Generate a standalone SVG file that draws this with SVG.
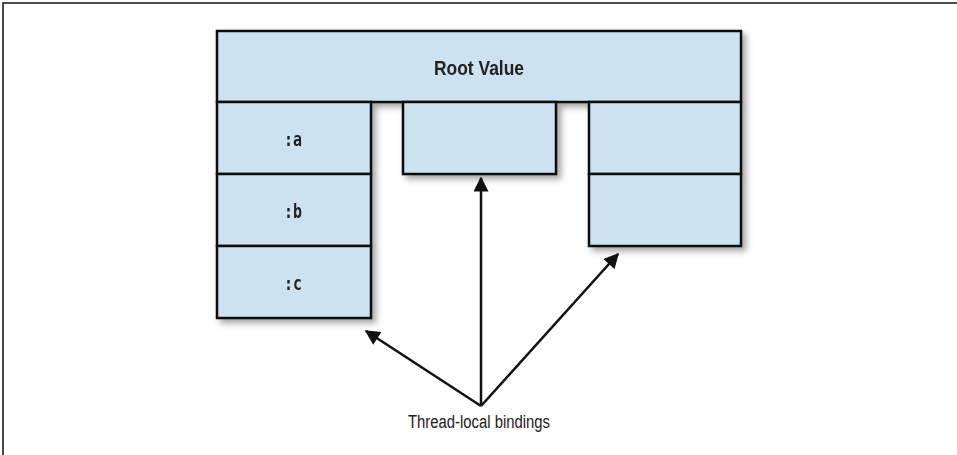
<svg xmlns="http://www.w3.org/2000/svg" width="957" height="455" viewBox="0 0 957 455">
  <style>
    .cell { fill: #cce2f0; stroke: #111; stroke-width: 2.5; }
    .lbl { font-family: "Liberation Sans", Arial, sans-serif; fill: #222; text-anchor: middle; }
    .key { font-family: "DejaVu Sans Mono", "Liberation Mono", monospace; font-size: 19px; font-weight: bold; fill: #222; text-anchor: middle; }
    .conn { stroke: #111; stroke-width: 2.5; fill: none; marker-end: url(#arr); }
  </style>
  <defs>
    <filter id="sh" x="-10%" y="-10%" width="130%" height="130%">
      <feDropShadow dx="4" dy="4" stdDeviation="3" flood-color="#000" flood-opacity="0.35"/>
    </filter>
    <marker id="arr" viewBox="0 0 10 10" refX="9" refY="5" markerWidth="6.5" markerHeight="6" markerUnits="strokeWidth" orient="auto">
      <path d="M0,0 L10,5 L0,10 z" fill="#111"/>
    </marker>
  </defs>
  <rect width="957" height="455" fill="#fff"/>
  <path d="M3,455 V3 H957" fill="none" stroke="#111" stroke-width="1.5"/>
  <g filter="url(#sh)">
    <g id="root">
      <rect class="cell" x="217" y="31" width="524" height="71"/>
      <text class="lbl" x="479" y="75" font-size="20" font-weight="bold" textLength="90" lengthAdjust="spacingAndGlyphs">Root Value</text>
    </g>
    <g id="left-column">
      <g id="cell-a">
        <rect class="cell" x="217" y="102" width="154" height="72"/>
        <text class="key" x="293" y="146" textLength="18" lengthAdjust="spacingAndGlyphs">:a</text>
      </g>
      <g id="cell-b">
        <rect class="cell" x="217" y="174" width="154" height="72"/>
        <text class="key" x="293" y="218" textLength="18" lengthAdjust="spacingAndGlyphs">:b</text>
      </g>
      <g id="cell-c">
        <rect class="cell" x="217" y="246" width="154" height="72"/>
        <text class="key" x="293" y="290" textLength="18" lengthAdjust="spacingAndGlyphs">:c</text>
      </g>
    </g>
    <g id="middle">
      <rect class="cell" x="403" y="102" width="153" height="72"/>
    </g>
    <g id="right-column">
      <g id="right-top">
        <rect class="cell" x="589" y="102" width="152" height="72"/>
      </g>
      <g id="right-bottom">
        <rect class="cell" x="589" y="174" width="152" height="72"/>
      </g>
    </g>
  </g>
  <g id="connectors">
    <line class="conn" x1="481" y1="406" x2="481" y2="178"/>
    <line class="conn" x1="481" y1="406" x2="366" y2="331"/>
    <line class="conn" x1="481" y1="406" x2="618" y2="254"/>
  </g>
  <g id="label">
    <text class="lbl" x="479" y="428" font-size="18" textLength="142" lengthAdjust="spacingAndGlyphs">Thread-local bindings</text>
  </g>
</svg>
